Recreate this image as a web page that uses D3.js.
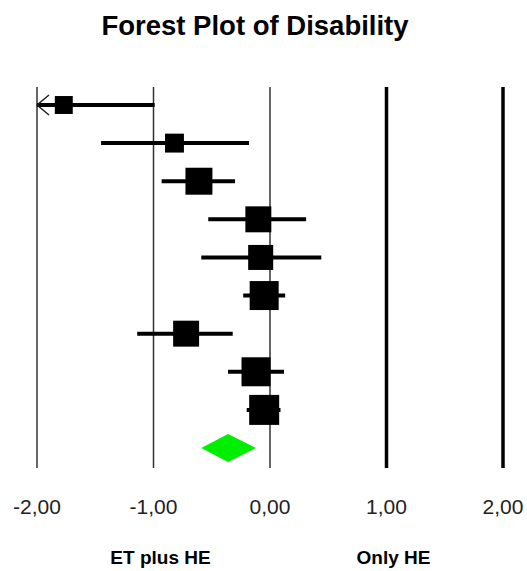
<!DOCTYPE html>
<html>
<head>
<meta charset="utf-8">
<script src="https://cdn.jsdelivr.net/npm/d3@7"></script>
<style>
  body { margin: 0; background: #fff; }
  text { font-family: Arial, "Liberation Sans", sans-serif; }
</style>
</head>
<body>
<div id="chart"></div>
<script>
// DATA
const studies = [1, 2, 3, 4, 5, 6, 7, 8, 9];
const effects = [-1.77, -0.82, -0.61, -0.10, -0.08, -0.05, -0.72, -0.12, -0.05];
const lowers = [-2.50, -1.45, -0.93, -0.53, -0.59, -0.23, -1.14, -0.36, -0.20];
const uppers = [-0.99, -0.18, -0.30, 0.31, 0.44, 0.13, -0.32, 0.12, 0.09];
const weights = [5.4, 6.0, 12.2, 11.3, 10.5, 14.1, 11.3, 14.1, 15.1];
const overall = {est: -0.36, lo: -0.59, hi: -0.12};
const tickValues = [-2, -1, 0, 1, 2];
const tickLabels = ["-2,00", "-1,00", "0,00", "1,00", "2,00"];
const sideLabels = ["ET plus HE", "Only HE"];

const width = 527, height = 571;

const svg = d3.select("#chart").append("svg")
  .attr("width", width)
  .attr("height", height);

// SCALES
const x = d3.scaleLinear().domain([-2, 2]).range([37, 503]);
const y = d3.scalePoint()
  .domain(studies.concat(["overall"]))
  .range([105, 448]);
const size = d3.scaleSqrt().domain([0, 15.1]).range([0, 30]);

// TITLE
svg.append("text")
  .attr("x", 255)
  .attr("y", 35)
  .attr("text-anchor", "middle")
  .attr("font-size", "27.5px")
  .attr("font-weight", "bold")
  .text("Forest Plot of Disability");

// VERTICAL LINES
svg.selectAll("line.grid")
  .data(tickValues)
  .join("line")
  .attr("class", "grid")
  .attr("x1", d => x(d)).attr("x2", d => x(d))
  .attr("y1", 87).attr("y2", 468)
  .attr("stroke", d => d > 0 ? "#000" : "#333")
  .attr("stroke-width", d => d > 0 ? 3.5 : 1.5);

// TICK LABELS
svg.selectAll("text.tick")
  .data(tickValues)
  .join("text")
  .attr("class", "tick")
  .attr("x", d => x(d))
  .attr("y", 514)
  .attr("text-anchor", "middle")
  .attr("font-size", "21px")
  .attr("fill", "#222")
  .text((d, i) => tickLabels[i]);

// SIDE LABELS
svg.selectAll("text.side")
  .data(sideLabels)
  .join("text")
  .attr("class", "side")
  .attr("x", (d, i) => i === 0 ? x(-0.94) : x(1.06))
  .attr("y", 564)
  .attr("text-anchor", "middle")
  .attr("font-size", "19px")
  .attr("font-weight", "bold")
  .text(d => d);

// CONFIDENCE INTERVALS
const rows = studies.map((s, i) => ({s, est: effects[i], lo: lowers[i], hi: uppers[i], w: weights[i]}));

svg.selectAll("line.ci")
  .data(rows)
  .join("line")
  .attr("class", "ci")
  .attr("x1", d => x(Math.max(d.lo, -2)))
  .attr("x2", d => x(Math.min(d.hi, 2)))
  .attr("y1", d => y(d.s)).attr("y2", d => y(d.s))
  .attr("stroke", "#000")
  .attr("stroke-width", 4);

// ARROWS FOR CLIPPED CI
rows.filter(d => d.lo < -2).forEach(d => {
  const ax = x(-2), ay = y(d.s);
  svg.append("path")
    .attr("d", `M${ax + 12},${ay - 10} L${ax},${ay} L${ax + 12},${ay + 10}`)
    .attr("fill", "none")
    .attr("stroke", "#222")
    .attr("stroke-width", 1.5);
});

// SQUARES
svg.selectAll("rect.est")
  .data(rows)
  .join("rect")
  .attr("class", "est")
  .attr("x", d => x(d.est) - size(d.w) / 2)
  .attr("y", d => y(d.s) - size(d.w) / 2)
  .attr("width", d => size(d.w))
  .attr("height", d => size(d.w))
  .attr("fill", "#000");

// DIAMOND
const dy = y("overall");
svg.append("path")
  .attr("d", `M${x(overall.lo)},${dy} L${x(overall.est)},${dy - 14} L${x(overall.hi)},${dy} L${x(overall.est)},${dy + 14} Z`)
  .attr("fill", "#00ee00");
</script>
</body>
</html>
